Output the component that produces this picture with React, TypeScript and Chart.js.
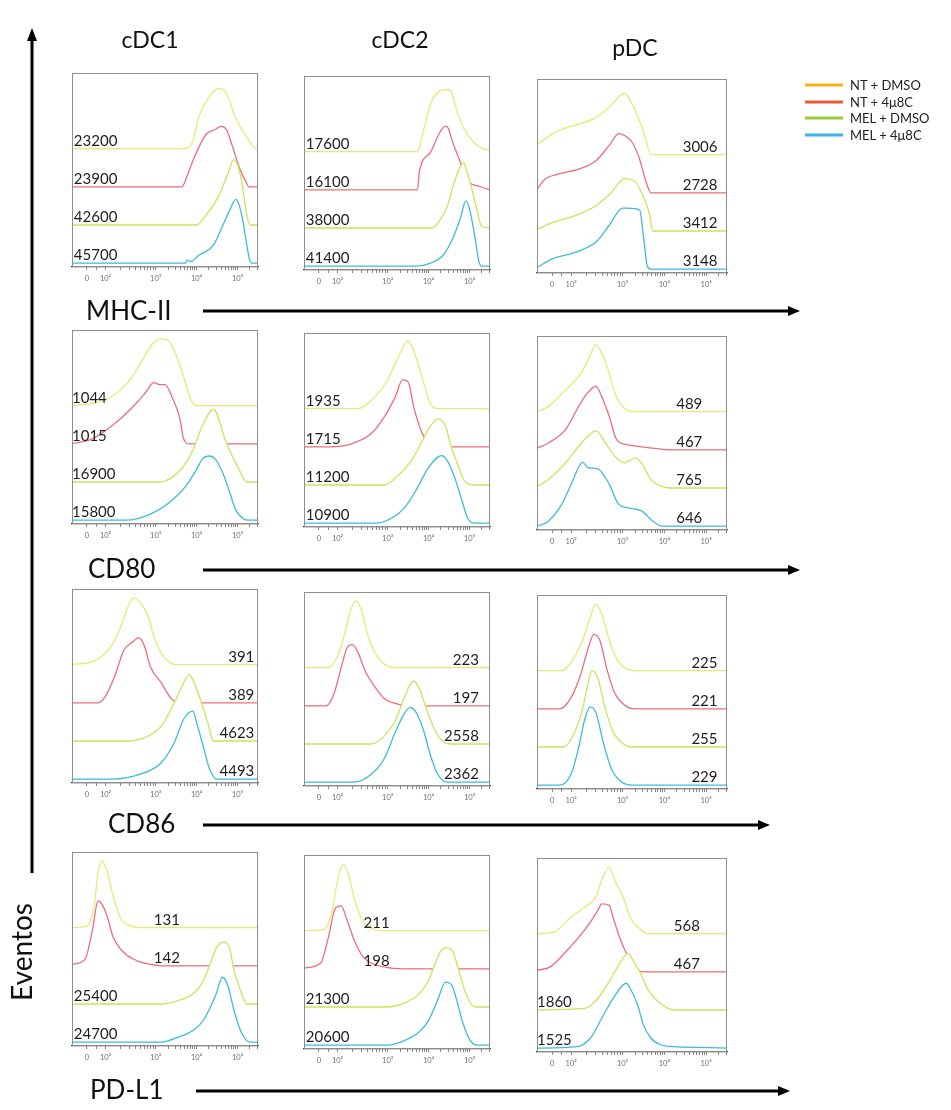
import React, { useEffect, useRef } from "react";
import { Chart, registerables } from "chart.js";
Chart.register(...registerables);

type Pt = [number, number];

// ---------- text / categories ----------
const CELL_TYPES = ["cDC1", "cDC2", "pDC"];
const MARKERS = ["MHC-II", "CD80", "CD86", "PD-L1"];
const GROUPS = ["NT + DMSO", "NT + 4\u03bc8C", "MEL + DMSO", "MEL + 4\u03bc8C"];
const TICK_LABELS = ["0", "10\u00b2", "10\u00b3", "10\u2074", "10\u2075"];
const TICK_POS = [8, 18, 45, 67, 89]; // axis position (% of width) of each tick label
const BASELINES = [3, 2, 1, 0]; // offset of each group's histogram

// ---------- MFI values (per marker, per cell type, per group) ----------
const MFI_MHCII = [["23200", "23900", "42600", "45700"], ["17600", "16100", "38000", "41400"], ["3006", "2728", "3412", "3148"]];
const MFI_CD80 = [["1044", "1015", "16900", "15800"], ["1935", "1715", "11200", "10900"], ["489", "467", "765", "646"]];
const MFI_CD86 = [["391", "389", "4623", "4493"], ["223", "197", "2558", "2362"], ["225", "221", "255", "229"]];
const MFI_PDL1 = [["131", "142", "25400", "24700"], ["211", "198", "21300", "20600"], ["568", "467", "1860", "1525"]];

// ---------- histogram outlines: [axis position %, height above baseline] ----------
const MHCII_CDC1: Pt[][] = [
  [[0, 0], [61, 0], [65, 0.2], [68, 0.8], [74, 1.37], [79, 1.58], [83, 1.45], [88, 0.8], [94, 0.3], [99, 0], [100, 0]],
  [[0, 0], [59, 0], [62, 0.3], [65, 0.68], [72, 1.37], [77, 1.5], [80, 1.58], [83, 1.5], [86, 1.1], [90, 0.5], [94, 0.08], [95, 0], [100, 0]],
  [[0, 0], [67, 0], [72, 0.26], [79, 0.77], [84, 1.37], [87, 1.71], [89, 1.58], [91, 1.2], [94, 0.26], [96, 0], [100, 0]],
  [[0, 0], [61, 0], [62, 0.08], [64, 0.04], [68, 0.2], [76, 0.47], [81, 0.98], [85, 1.41], [88, 1.67], [90, 1.5], [92, 1.07], [94, 0.47], [95.5, 0.08], [97, 0], [100, 0]],
];
const MHCII_CDC2: Pt[][] = [
  [[0, 0], [61, 0], [64, 0.51], [69, 1.37], [73, 1.58], [77, 1.62], [79, 1.58], [82, 1.1], [86, 0.6], [91, 0.26], [96, 0.08], [100, 0.04]],
  [[0, 0], [61, 0], [62, 0.47], [68, 0.98], [73, 1.5], [76, 1.67], [77.5, 1.62], [80, 1.24], [84, 0.73], [87, 0.3], [95, 0.08], [100, 0]],
  [[0, 0], [69, 0], [73, 0.2], [77, 0.56], [80, 1.07], [83, 1.5], [86, 1.71], [87, 1.58], [90, 1.07], [93, 0.47], [95.5, 0.04], [100, 0]],
  [[0, 0], [60, 0], [68, 0.08], [75, 0.3], [80, 0.73], [84, 1.24], [87, 1.71], [89, 1.5], [92, 0.73], [94, 0.13], [95.5, 0], [100, 0]],
];
const MHCII_PDC: Pt[][] = [
  [[0, 0.27], [11, 0.62], [22, 0.8], [31, 0.97], [38, 1.24], [46, 1.6], [50, 1.33], [54, 0.88], [57, 0.44], [60, 0], [100, 0]],
  [[0, 0.09], [4, 0.35], [11, 0.49], [22, 0.62], [31, 0.84], [38, 1.24], [43, 1.55], [46, 1.5], [50, 1.33], [54, 0.88], [57, 0.35], [60, 0], [100, 0]],
  [[0, 0.04], [8, 0.22], [20, 0.4], [31, 0.66], [39, 1.0], [46, 1.37], [52, 1.28], [55, 1.0], [59, 0.49], [61, 0], [100, 0]],
  [[0, 0.04], [8, 0.27], [20, 0.44], [31, 0.71], [38, 1.15], [45, 1.6], [48, 1.6], [54, 1.55], [56, 0.88], [58, 0.09], [60, 0], [100, 0]],
];
const CD80_CDC1: Pt[][] = [
  [[0, 0], [10, 0.05], [20, 0.2], [30, 0.6], [38, 1.2], [43, 1.6], [48, 1.75], [52, 1.7], [57, 1.2], [61, 0.6], [64, 0.15], [67, 0], [100, 0]],
  [[0, 0], [11, 0.13], [22, 0.49], [32, 0.93], [40, 1.37], [44, 1.6], [47, 1.55], [50, 1.55], [54, 1.2], [58, 0.66], [60, 0.13], [63, 0], [100, 0]],
  [[0, 0], [47, 0], [58, 0.3], [65, 0.84], [70, 1.46], [76, 1.9], [83, 1.02], [90, 0.31], [94, 0], [100, 0]],
  [[0, 0], [29, 0], [43, 0.18], [54, 0.53], [61, 0.88], [67, 1.33], [70, 1.6], [74, 1.68], [77, 1.6], [81, 1.24], [85, 0.7], [88, 0.27], [92, 0.04], [95, 0], [100, 0]],
];
const CD80_CDC2: Pt[][] = [
  [[0, 0], [29, 0], [38, 0.3], [45, 0.75], [50, 1.28], [56, 1.77], [60, 1.37], [65, 0.57], [68, 0.13], [72, 0], [100, 0]],
  [[0, 0], [14, 0], [25, 0.07], [36, 0.34], [43, 0.77], [49, 1.3], [53, 1.75], [56, 1.7], [59, 1.04], [63, 0.42], [67, 0.07], [70, 0], [100, 0]],
  [[0, 0], [43, 0], [50, 0.22], [58, 0.66], [63, 1.1], [68, 1.55], [72, 1.73], [76, 1.55], [79, 1.02], [83, 0.49], [86, 0.13], [92, 0], [100, 0]],
  [[0, 0], [38, 0], [47, 0.13], [54, 0.4], [61, 0.93], [67, 1.46], [74, 1.77], [77, 1.64], [81, 1.2], [85, 0.58], [88, 0.13], [92, 0], [100, 0]],
];
const CD80_PDC: Pt[][] = [
  [[0, 0], [6, 0.13], [15, 0.57], [22, 0.92], [27, 1.36], [31, 1.75], [34, 1.54], [38, 1.0], [41, 0.48], [46, 0.09], [52, 0], [100, 0]],
  [[0, 0.04], [6, 0.18], [15, 0.53], [22, 1.14], [26, 1.45], [31, 1.67], [34, 1.4], [38, 0.88], [42, 0.26], [48, 0.13], [62, 0.04], [70, 0], [100, 0]],
  [[0, 0.04], [6, 0.22], [15, 0.66], [22, 1.1], [27, 1.36], [31, 1.5], [36, 1.18], [41, 0.83], [46, 0.66], [52, 0.79], [56, 0.57], [60, 0.22], [66, 0.04], [70, 0], [100, 0]],
  [[0, 0], [6, 0.13], [13, 0.57], [18, 1.1], [24, 1.67], [27, 1.53], [32, 1.5], [38, 1.1], [43, 0.57], [48, 0.48], [55, 0.4], [61, 0.13], [66, 0], [100, 0]],
];
const CD86_CDC1: Pt[][] = [
  [[0, 0], [12, 0.1], [21, 0.48], [27, 1.09], [30, 1.52], [33, 1.74], [37, 1.6], [41, 1.26], [44, 0.74], [48, 0.3], [53, 0.04], [56, 0], [100, 0]],
  [[0, 0], [14, 0], [18, 0.17], [23, 0.7], [28, 1.39], [32, 1.57], [36, 1.7], [39, 1.48], [42, 0.96], [48, 0.52], [53, 0.13], [57, 0], [100, 0]],
  [[0, 0], [30, 0], [39, 0.09], [48, 0.39], [55, 1.0], [60, 1.52], [63, 1.74], [65, 1.6], [69, 1.09], [73, 0.48], [76, 0], [100, 0]],
  [[0, 0], [21, 0], [39, 0.17], [48, 0.43], [55, 0.96], [60, 1.57], [65, 1.78], [67, 1.48], [71, 0.78], [74, 0.26], [78, 0], [100, 0]],
];
const CD86_CDC2: Pt[][] = [
  [[0, 0], [13, 0], [18, 0.3], [22, 0.9], [25, 1.5], [28, 1.75], [31, 1.5], [34, 0.9], [38, 0.4], [43, 0.1], [48, 0], [100, 0]],
  [[0, 0], [12, 0], [16, 0.3], [20, 1.0], [23, 1.5], [26, 1.6], [29, 1.4], [33, 0.9], [38, 0.5], [43, 0.2], [50, 0.05], [56, 0], [100, 0]],
  [[0, 0], [36, 0], [43, 0.2], [49, 0.6], [53, 1.1], [57, 1.55], [59, 1.65], [62, 1.45], [66, 0.9], [70, 0.4], [75, 0.05], [79, 0], [100, 0]],
  [[0, 0], [27, 0], [36, 0.2], [43, 0.6], [49, 1.3], [54, 1.8], [57, 1.95], [60, 1.85], [64, 1.4], [68, 0.7], [72, 0.2], [77, 0], [100, 0]],
];
const CD86_PDC: Pt[][] = [
  [[0, 0], [13, 0], [19, 0.3], [24, 0.8], [28, 1.4], [31, 1.75], [34, 1.5], [38, 0.8], [42, 0.3], [47, 0.05], [52, 0], [100, 0]],
  [[0, 0], [12, 0], [18, 0.3], [23, 0.9], [27, 1.6], [30, 1.95], [33, 1.8], [37, 1.0], [41, 0.4], [46, 0.1], [51, 0], [100, 0]],
  [[0, 0], [14, 0], [19, 0.3], [24, 1.0], [27, 1.7], [29, 2.0], [32, 1.8], [36, 1.0], [40, 0.4], [45, 0.1], [50, 0], [100, 0]],
  [[0, 0], [12, 0], [18, 0.3], [22, 1.0], [25, 1.7], [28, 2.05], [31, 1.9], [35, 1.1], [39, 0.45], [44, 0.1], [50, 0], [100, 0]],
];
const PDL1_CDC1: Pt[][] = [
  [[0, 0], [8, 0.04], [12, 0.6], [14, 1.45], [16, 1.75], [19, 1.45], [22, 0.85], [26, 0.26], [32, 0.04], [37, 0], [100, 0]],
  [[0, 0.04], [7, 0.17], [11, 0.94], [14, 1.7], [16, 1.62], [19, 1.28], [22, 0.77], [28, 0.34], [35, 0.13], [42, 0.04], [48, 0], [100, 0]],
  [[0, 0], [48, 0], [57, 0.09], [66, 0.3], [71, 0.64], [75, 1.15], [78, 1.5], [82, 1.62], [85, 1.41], [87, 0.9], [91, 0.3], [94, 0], [100, 0]],
  [[0, 0], [48, 0], [57, 0.13], [66, 0.34], [71, 0.6], [77, 1.2], [81, 1.7], [84, 1.45], [87, 0.85], [91, 0.26], [94, 0.04], [96, 0], [100, 0]],
];
const PDL1_CDC2: Pt[][] = [
  [[0, 0], [11, 0.04], [15, 0.5], [18, 1.3], [21, 1.75], [24, 1.45], [27, 0.85], [31, 0.3], [37, 0.05], [43, 0], [100, 0]],
  [[0, 0.02], [9, 0.15], [13, 0.8], [17, 1.6], [20, 1.65], [23, 1.3], [27, 0.75], [32, 0.3], [39, 0.1], [47, 0.02], [53, 0], [100, 0]],
  [[0, 0], [44, 0], [54, 0.1], [62, 0.35], [67, 0.7], [71, 1.2], [74, 1.5], [77, 1.55], [80, 1.45], [83, 1.0], [87, 0.35], [91, 0.02], [93, 0], [100, 0]],
  [[0, 0], [44, 0], [54, 0.12], [62, 0.35], [67, 0.65], [72, 1.2], [76, 1.65], [79, 1.6], [82, 1.2], [85, 0.65], [89, 0.15], [93, 0], [100, 0]],
];
const PDL1_PDC: Pt[][] = [
  [[0, 0], [9, 0.04], [16, 0.35], [25, 0.7], [31, 0.96], [34, 1.39], [38, 1.74], [41, 1.39], [46, 0.87], [49, 0.43], [55, 0.09], [58, 0], [100, 0]],
  [[0, 0.04], [7, 0.13], [16, 0.57], [25, 1.09], [32, 1.6], [34, 1.78], [38, 1.74], [40, 1.43], [44, 0.83], [48, 0.39], [53, 0.04], [56, 0], [100, 0]],
  [[0, 0], [25, 0.04], [32, 0.3], [39, 0.83], [44, 1.26], [48, 1.48], [51, 1.26], [55, 0.91], [58, 0.57], [62, 0.3], [65, 0.17], [69, 0.04], [72, 0], [100, 0]],
  [[0, 0], [21, 0.04], [28, 0.26], [35, 0.87], [40, 1.3], [47, 1.7], [49, 1.57], [53, 1.13], [56, 0.61], [60, 0.26], [65, 0.09], [72, 0.04], [86, 0.02], [100, 0]],
];

// ---------- styling / layout ----------
const CURVE_COLORS = ["#e6ea74", "#ec6e7a", "#cde35c", "#3dbbdb"];
const LEGEND_COLORS = ["#f5b31b", "#f05a3a", "#9bcb3c", "#3cb3e4"];
const FONT = "Lato, 'Open Sans', sans-serif";

const COL_X = [72, 304, 537];
const COL_W = [186, 186, 190];
const COL_DY = [0, 3, 6];
const ROW_Y = [73, 330, 589, 852];
const BOX_H = 194;
const PAD = 3;
const AXIS_H = 20;
const Y_MIN = -0.1;
const Y_MAX = 4.98;

type LabelPos = [number, CanvasTextAlign];
const L = (x: number): LabelPos => [x, "left"];
const R = (x: number): LabelPos => [x, "right"];
// label placement per [row][col]
const LABEL_POS: LabelPos[][][] = [
  [[L(1), L(1), L(1), L(1)], [L(1), L(1), L(1), L(1)], [R(95), R(95), R(95), R(95)]],
  [[L(0), L(0), L(0), L(0)], [L(1), L(1), L(1), L(1)], [R(87), R(87), R(87), R(87)]],
  [[R(98), R(98), R(98), R(98)], [R(94), R(94), R(94), R(94)], [R(95), R(95), R(95), R(95)]],
  [[L(44), L(44), L(1), L(1)], [L(32), L(32), L(1), L(1)], [L(72), L(72), L(0), L(0)]],
];

const PANELS: Pt[][][][] = [
  [MHCII_CDC1, MHCII_CDC2, MHCII_PDC],
  [CD80_CDC1, CD80_CDC2, CD80_PDC],
  [CD86_CDC1, CD86_CDC2, CD86_PDC],
  [PDL1_CDC1, PDL1_CDC2, PDL1_PDC],
];
const MFI = [MFI_MHCII, MFI_CD80, MFI_CD86, MFI_PDL1];

// minor tick marks of the log decades (axis decoration)
function minorTicks(): number[] {
  const out: number[] = [];
  for (let d = 1; d < TICK_POS.length; d++) {
    const a = TICK_POS[d];
    const b = d + 1 < TICK_POS.length ? TICK_POS[d + 1] : TICK_POS[d] + (TICK_POS[d] - TICK_POS[d - 1]);
    for (let k = 2; k <= 9; k++) {
      const v = a + Math.log10(k) * (b - a);
      if (v < 100) out.push(v);
    }
  }
  out.push(13);
  return out;
}

function Panel({ row, col }: { row: number; col: number }) {
  const ref = useRef<HTMLCanvasElement>(null);
  const w = COL_W[col];
  const cw = w + PAD * 2;
  const ch = BOX_H + PAD + AXIS_H;
  useEffect(() => {
    const curves = PANELS[row][col];
    const labels = MFI[row][col];
    const pos = LABEL_POS[row][col];
    const majors = TICK_POS.slice();
    const minors = minorTicks();
    const plugin = {
      id: "panelDecor",
      afterDatasetsDraw(chart: any) {
        const ctx = chart.ctx;
        const xs = chart.scales.x;
        const ys = chart.scales.y;
        const a = chart.chartArea;
        ctx.save();
        ctx.strokeStyle = "#8e8e8e";
        ctx.lineWidth = 1;
        ctx.strokeRect(a.left + 0.5, a.top + 0.5, a.right - a.left - 1, a.bottom - a.top - 1);
        ctx.font = `15px ${FONT}`;
        ctx.fillStyle = "#1e1e1e";
        ctx.textBaseline = "alphabetic";
        labels.forEach((t, i) => {
          const [fx, al] = pos[i];
          ctx.textAlign = al;
          ctx.fillText(t, xs.getPixelForValue(fx), ys.getPixelForValue(BASELINES[i]) - 3);
        });
        ctx.restore();
      },
    };
    const chart = new Chart(ref.current as HTMLCanvasElement, {
      type: "line",
      data: {
        datasets: curves.map((pts, i) => ({
          label: GROUPS[i],
          data: pts.map(([px, py]) => ({ x: px, y: py + BASELINES[i] })),
          borderColor: CURVE_COLORS[i],
          borderWidth: 1.3,
          backgroundColor: "#ffffff",
          fill: { value: BASELINES[i] },
          pointRadius: 0,
          cubicInterpolationMode: "monotone" as const,
          order: 3 - i,
        })),
      },
      options: {
        animation: false,
        responsive: false,
        events: [],
        layout: { padding: { left: PAD, right: PAD, top: PAD, bottom: 0 } },
        plugins: { legend: { display: false }, tooltip: { enabled: false } },
        scales: {
          x: {
            type: "linear",
            min: 0,
            max: 100,
            afterBuildTicks: (s: any) => {
              s.ticks = [...majors, ...minors].sort((p, q) => p - q).map((v) => ({ value: v }));
            },
            afterFit: (s: any) => {
              s.height = AXIS_H;
              s.paddingLeft = 0;
              s.paddingRight = 0;
            },
            ticks: {
              autoSkip: false,
              maxRotation: 0,
              minRotation: 0,
              padding: 4,
              color: "#6f6f6f",
              font: { size: 7.5, family: FONT },
              callback: (v: any) => {
                const idx = majors.indexOf(Number(v));
                return idx >= 0 ? TICK_LABELS[idx] : "";
              },
            },
            grid: { drawOnChartArea: false, drawTicks: true, tickLength: 3, color: "#555", lineWidth: 0.7 },
            border: { display: true, color: "#333", width: 1.2 },
          },
          y: { type: "linear", min: Y_MIN, max: Y_MAX, display: false },
        },
      },
      plugins: [plugin],
    } as any);
    return () => chart.destroy();
  }, [row, col]);
  return (
    <canvas
      ref={ref}
      width={cw}
      height={ch}
      style={{
        position: "absolute",
        left: COL_X[col] - PAD,
        top: ROW_Y[row] + COL_DY[col] - PAD,
        width: cw,
        height: ch,
      }}
    />
  );
}

const TITLE_POS = [[150, 48], [400, 48], [635, 56]];
const MARKER_POS = [[86, 320], [88, 578], [108, 833], [90, 1099]];
const ARROW_Y = [311, 570, 825, 1091];
const ARROW_X = [[203, 800], [203, 800], [203, 770], [196, 790]];
const LEGEND_Y = [85, 102, 118, 135];

function Overlay() {
  return (
    <svg width={951} height={1110} style={{ position: "absolute", left: 0, top: 0 }}>
      {CELL_TYPES.map((t, i) => (
        <text key={t} x={TITLE_POS[i][0]} y={TITLE_POS[i][1]} textAnchor="middle" fontFamily={FONT} fontSize={23} fill="#111">
          {t}
        </text>
      ))}
      {MARKERS.map((m, i) => (
        <g key={m}>
          <text x={MARKER_POS[i][0]} y={MARKER_POS[i][1]} fontFamily={FONT} fontSize={26} fill="#111">
            {m}
          </text>
          <line x1={ARROW_X[i][0]} y1={ARROW_Y[i]} x2={ARROW_X[i][1] - 10} y2={ARROW_Y[i]} stroke="#000" strokeWidth={3} />
          <polygon
            points={`${ARROW_X[i][1]},${ARROW_Y[i]} ${ARROW_X[i][1] - 12},${ARROW_Y[i] - 5} ${ARROW_X[i][1] - 12},${ARROW_Y[i] + 5}`}
            fill="#000"
          />
        </g>
      ))}
      <line x1={32} y1={873} x2={32} y2={40} stroke="#000" strokeWidth={3} />
      <polygon points="32,28 27,41 37,41" fill="#000" />
      <text x={0} y={0} transform="translate(32,952) rotate(-90)" textAnchor="middle" fontFamily={FONT} fontSize={28} fill="#111">
        Eventos
      </text>
      {GROUPS.map((g, i) => (
        <g key={g}>
          <line x1={805} y1={LEGEND_Y[i]} x2={843} y2={LEGEND_Y[i]} stroke={LEGEND_COLORS[i]} strokeWidth={3} />
          <text x={850} y={LEGEND_Y[i] + 4.5} fontFamily={FONT} fontSize={13} fill="#222">
            {g}
          </text>
        </g>
      ))}
    </svg>
  );
}

export default function App() {
  return (
    <div style={{ position: "absolute", left: 0, top: 0, width: 951, height: 1110, background: "#fff", overflow: "hidden" }}>
      {MARKERS.map((_, r) => CELL_TYPES.map((__, c) => <Panel key={`${r}-${c}`} row={r} col={c} />))}
      <Overlay />
    </div>
  );
}
